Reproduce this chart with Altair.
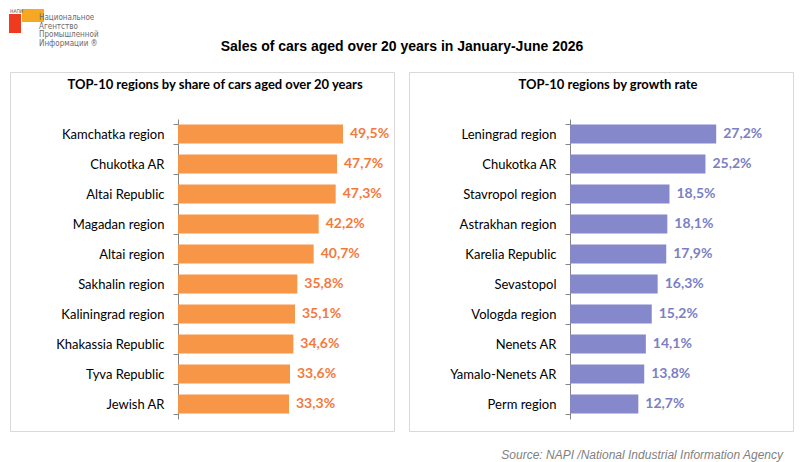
import altair as alt
import pandas as pd

# ---------------- data ----------------
left_regions = ["Kamchatka region", "Chukotka AR", "Altai Republic", "Magadan region",
                "Altai region", "Sakhalin region", "Kaliningrad region",
                "Khakassia Republic", "Tyva Republic", "Jewish AR"]
left_values = [49.5, 47.7, 47.3, 42.2, 40.7, 35.8, 35.1, 34.6, 33.6, 33.3]

right_regions = ["Leningrad region", "Chukotka AR", "Stavropol region", "Astrakhan region",
                 "Karelia Republic", "Sevastopol", "Vologda region", "Nenets AR",
                 "Yamalo-Nenets AR", "Perm region"]
right_values = [27.2, 25.2, 18.5, 18.1, 17.9, 16.3, 15.2, 14.1, 13.8, 12.7]

main_title = "Sales of cars aged over 20 years in January-June 2026"
left_title = "TOP-10 regions by share of cars aged over 20 years"
right_title = "TOP-10 regions by growth rate"
source_text = "Source: NAPI /National Industrial Information Agency"
logo_lines = ["Национальное", "Агентство", "Промышленной", "Информации ®"]
logo_small = "НАПИ"


def fmt(v):
    return f"{v:.1f}".replace(".", ",") + "%"


def frame(regions, values):
    return pd.DataFrame({"region": regions, "value": values,
                         "label": [fmt(v) for v in values]})


PW, PH = 384, 359
one = pd.DataFrame({"k": [0]})


def txt(text, x, y, **kw):
    return alt.Chart(one).mark_text(**kw).encode(
        x=alt.value(x), y=alt.value(y), text=alt.value(text))


def panel(df, domain, offset, bar_color, label_color, title, title_x, extra=()):
    base = alt.Chart(df)
    yenc = alt.Y("region:N", sort=None,
                 scale=alt.Scale(range=[47, 347], paddingInner=0.36, paddingOuter=0.18),
                 axis=alt.Axis(title=None, offset=offset, domainColor="#868686",
                               tickColor="#868686", tickSize=5, tickBand="extent",
                               labelFont="Lato", labelFontSize=13, labelColor="#000000",
                               labelPadding=9, grid=False))
    xenc = alt.X("value:Q", scale=alt.Scale(domain=domain, nice=False, zero=False),
                 axis=None)
    bars = base.mark_bar(color=bar_color).encode(y=yenc, x=xenc)
    labels = base.mark_text(align="left", baseline="middle", dx=7, font="Lato",
                            fontSize=14, fontWeight="bold", color=label_color).encode(
        y=alt.Y("region:N", sort=None), x="value:Q", text="label:N")
    ttl = txt(title, title_x, 13, align="center", baseline="middle", font="Lato",
              fontSize=13, fontWeight="bold", color="#000000")
    return alt.layer(bars, labels, ttl, *extra).properties(
        width=PW, height=PH,
        view=alt.ViewBackground(stroke="#d9d9d9", strokeWidth=1))


# ---------------- header (drawn above the left panel) ----------------
red = alt.Chart(one).mark_rect(color="#EE3A1F").encode(
    x=alt.value(-1), x2=alt.value(11), y=alt.value(-58), y2=alt.value(-39))
orange = alt.Chart(one).mark_rect(color="#F7A823").encode(
    x=alt.value(12), x2=alt.value(34), y=alt.value(-63), y2=alt.value(-50))
small = txt(logo_small, 0, -63, align="left", baseline="top",
            font="DejaVu Sans Condensed", fontSize=5, color="#555555")
line_y = [-54, -45, -37, -28]
logo_layers = [txt(t, 29, yy, align="left", baseline="middle",
                   font="DejaVu Sans Condensed", fontSize=8, color="#6b6b6b")
               for t, yy in zip(logo_lines, line_y)]
title = txt(main_title, 392, -25, align="center", baseline="middle",
            font="Liberation Sans", fontSize=14, fontWeight="bold", color="#000000")

src = txt(source_text, 374, 383, align="right", baseline="middle",
          font="Liberation Sans", fontSize=12, fontStyle="italic", color="#7f7f7f")

left = panel(frame(left_regions, left_values), [-50.4, 64.8], -168,
             "#F79646", "#F47A3C", left_title, 205,
             extra=[red, orange, small, *logo_layers, title])
right = panel(frame(right_regions, right_values), [-30.0, 41.5], -161,
              "#8588CA", "#7B7FC4", right_title, 199, extra=[src])

chart = alt.hconcat(left, right, spacing=15, bounds="flush").resolve_scale(
    y="independent", x="independent"
).properties(
    padding={"left": 0, "top": 0, "right": 0, "bottom": 0}
).configure_view(stroke="transparent")

chart.save("out.html", embed_options={"renderer": "svg", "actions": False})
